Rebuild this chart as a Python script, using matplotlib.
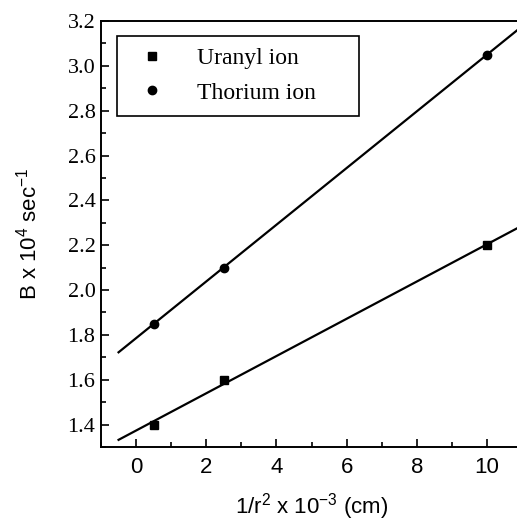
import numpy as np
import matplotlib
matplotlib.use('Agg')
import matplotlib.pyplot as plt
from matplotlib.ticker import MultipleLocator

# data
inv_r2 = [0.5, 2.5, 10.0]
uranyl = [1.40, 1.60, 2.20]
thorium = [1.85, 2.10, 3.05]
y_ticks = [1.4, 1.6, 1.8, 2.0, 2.2, 2.4, 2.6, 2.8, 3.0, 3.2]

plt.rcParams['mathtext.fontset'] = 'custom'
plt.rcParams['mathtext.rm'] = 'Liberation Sans'
plt.rcParams['mathtext.it'] = 'Liberation Sans'

fig = plt.figure(figsize=(5.17, 5.22), dpi=100)
ax = fig.add_axes([0.1954, 0.1437, 0.8143, 0.8161])

# linear fits, drawn from -0.5 to 11
xfit = np.array([-0.5, 11.0])
for ys in (uranyl, thorium):
    m, b = np.polyfit(inv_r2, ys, 1)
    ax.plot(xfit, m * xfit + b, color='black', lw=1.6)

ax.plot(inv_r2, uranyl, 's', color='black', ms=5.5, label='Uranyl ion')
ax.plot(inv_r2, thorium, 'o', color='black', ms=6, label='Thorium ion')

ax.set_xlim(-1, 11)
ax.set_ylim(1.3, 3.2)
ax.xaxis.set_minor_locator(MultipleLocator(1))
ax.yaxis.set_minor_locator(MultipleLocator(0.1))
ax.tick_params(which='both', direction='in', width=1.2, top=False, right=False)
ax.tick_params(which='major', length=6)
ax.tick_params(which='minor', length=3.5)
ax.tick_params(axis='x', pad=7)
ax.tick_params(axis='y', pad=4)
for s in ax.spines.values():
    s.set_linewidth(1.4)

ax.set_xticks([0, 2, 4, 6, 8, 10])
ax.set_xticklabels(['0', '2', '4', '6', '8', '10'], fontfamily='Liberation Sans', fontsize=16)
ax.set_yticks(y_ticks)
ax.set_yticklabels(['%.1f' % v for v in y_ticks], fontfamily='Liberation Serif', fontsize=16)

ax.set_xlabel('1/r$^2$ x 10$^{-3}$ (cm)', fontfamily='Liberation Sans', fontsize=16, labelpad=10)
ax.set_ylabel('B x 10$^4$ sec$^{-1}$', fontfamily='Liberation Sans', fontsize=16, labelpad=19)

leg = ax.legend(loc='upper left', bbox_to_anchor=(0.038, 0.965 - 0.181, 0.575, 0.181),
                mode='expand', borderaxespad=0,
                fancybox=False, edgecolor='black', framealpha=1,
                prop={'family': 'Liberation Serif', 'size': 17},
                handlelength=2.0, handletextpad=0.9, borderpad=0.5,
                labelspacing=0.55)
leg.get_frame().set_linewidth(1.2)

fig.savefig('out.png', dpi=100)
